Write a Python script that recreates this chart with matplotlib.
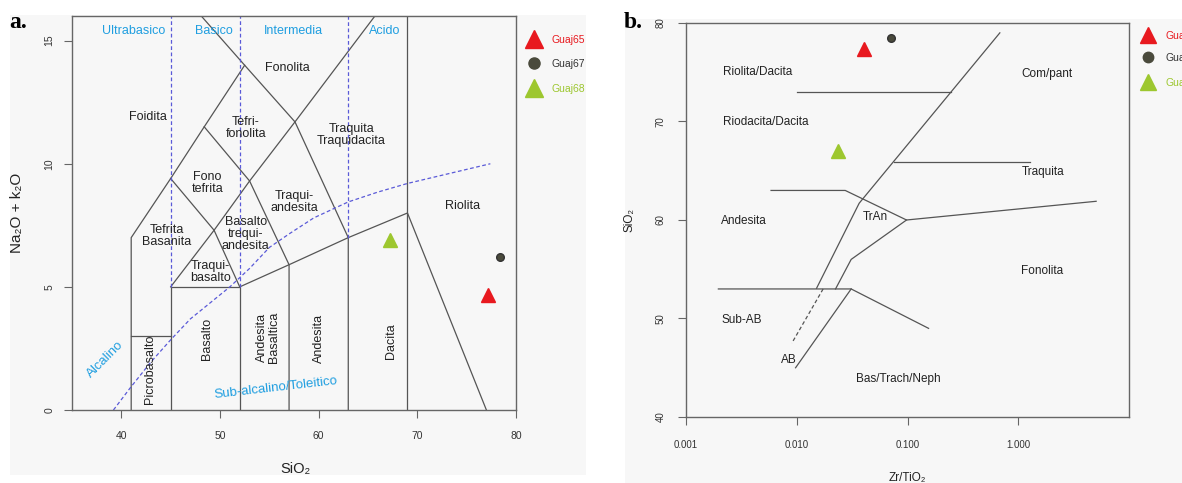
import numpy as np
import matplotlib.pyplot as plt

plt.rcParams['font.family'] = ['Liberation Sans', 'DejaVu Sans']

# ---- samples ----
samples = ['Guaj65', 'Guaj67', 'Guaj68']
sample_colors = ['#e8191f', '#4a4a3c', '#9dc72f']
sample_text_colors = ['#e8191f', '#333333', '#9dc72f']
sample_markers = ['^', 'o', '^']

# TAS (SiO2 vs Na2O+K2O)
tas_sio2 = [77.2, 78.4, 67.2]
tas_alk = [4.66, 6.2, 6.9]

# Winchester & Floyd (Zr/TiO2 vs SiO2)
wf_zr_ti = [0.0404, 0.0710, 0.0235]
wf_sio2 = [77.4, 78.5, 67.0]

# ---- TAS field boundaries ----
tas_lines = [
    ([41, 41, 45, 48.4, 52.5], [0, 7, 9.4, 11.5, 14]),
    ([41, 45], [3, 3]),
    ([45, 45, 52, 52], [0, 5, 5, 0]),
    ([45, 49.4, 45], [5, 7.3, 9.4]),
    ([52, 49.4, 53, 57.6, 65.7], [5, 7.3, 9.3, 11.7, 16]),
    ([52, 57, 63, 69, 77], [5, 5.9, 7, 8, 0]),
    ([57, 57, 53, 48.4], [0, 5.9, 9.3, 11.5]),
    ([63, 63, 57.6, 52.5, 48.1], [0, 7, 11.7, 14, 16]),
    ([69, 69], [0, 16]),
]
tas_dashed = [
    ([45, 45], [5, 16]),
    ([52, 52], [5, 16]),
    ([63, 63], [7, 16]),
]
alk_x = [39.2, 41, 43, 45, 47, 49, 51, 53, 55, 57, 59.5, 63, 66, 69, 77.4]
alk_y = [0, 0.95, 1.95, 2.85, 3.7, 4.35, 5.0, 5.75, 6.6, 7.15, 7.8, 8.45, 8.85, 9.2, 10.0]

tas_fields = ['Foidita', 'Fonolita', 'Tefri-\nfonolita', 'Traquita\nTraquidacita',
              'Fono\ntefrita', 'Traqui-\nandesita', 'Riolita', 'Tefrita\nBasanita',
              'Basalto\ntrequi-\nandesita', 'Traqui-\nbasalto']
tas_field_pos = [(42.65, 11.9), (56.8, 13.9), (52.6, 11.45), (63.3, 11.15),
                 (48.7, 9.2), (57.5, 8.45), (74.6, 8.3), (44.6, 7.05),
                 (52.6, 7.15), (49.0, 5.6)]
tas_vfields = ['Picrobasalto', 'Basalto', 'Andesita\nBasaltica', 'Andesita', 'Dacita']
tas_vfield_pos = [(42.9, 1.65), (48.7, 2.9), (54.9, 2.95), (60.0, 2.9), (67.3, 2.8)]
tas_groups = ['Ultrabasico', 'Basico', 'Intermedia', 'Acido']
tas_group_x = [41.2, 49.4, 57.4, 66.7]

# ---- Winchester & Floyd boundaries ----
wf_lines = [
    ([0.0151, 0.0366, 0.682], [53.07, 61.7, 79.0]),
    ([0.01, 0.247], [73, 73]),
    ([0.076, 1.29], [65.9, 65.9]),
    ([0.00586, 0.0274, 0.098, 5.05], [63, 63, 60, 61.9]),
    ([0.098, 0.031, 0.0224], [60, 56, 53]),
    ([0.00196, 0.031, 0.155], [53, 53, 49]),
    ([0.031, 0.00976], [53, 45]),
]
wf_dashed = [([0.0173, 0.00903], [53, 47.5])]
wf_fields = ['Riolita/Dacita', 'Com/pant', 'Riodacita/Dacita', 'Traquita', 'TrAn',
             'Andesita', 'Fonolita', 'Sub-AB', 'AB', 'Bas/Trach/Neph']
wf_field_pos = [(0.00447, 75.06), (1.81, 74.8), (0.00526, 69.9), (1.69, 64.9),
                (0.0509, 60.33), (0.00336, 59.9), (1.65, 54.85), (0.00319, 49.85),
                (0.00849, 45.8), (0.0822, 43.9)]

W, H = 1182, 483
BG = '#f7f7f7'
LINE = '#555555'
BLUE = '#1f9ee0'
DASH = '#5a5ad8'


def box(x0, y0, x1, y1):
    return [x0 / W, 1 - y1 / H, (x1 - x0) / W, (y1 - y0) / H]


def panel_bg(x0, y0, x1, y1):
    b = fig.add_axes(box(x0, y0, x1, y1))
    b.set_facecolor(BG)
    b.set_xlim(x0, x1)
    b.set_ylim(y1, y0)
    b.set_xticks([])
    b.set_yticks([])
    for s in b.spines.values():
        s.set_visible(False)
    return b


def legend(b, x, ys, ms_tri, ms_dot, fs):
    for i in range(len(samples)):
        ms = ms_dot if sample_markers[i] == 'o' else ms_tri
        b.plot(x, ys[i], marker=sample_markers[i], color=sample_colors[i], ms=ms,
               mec=sample_colors[i], ls='none', clip_on=True)
        b.text(x + 18, ys[i] + 1, samples[i], color=sample_text_colors[i], fontsize=fs,
               ha='left', va='center', clip_on=True)


def style_axes(ax, xpad, ypad, lsize):
    for s in ax.spines.values():
        s.set_color('#666666')
        s.set_linewidth(1.0)
    ax.tick_params(direction='out', length=5.8, width=0.8, color='#666666',
                   labelsize=lsize, labelcolor='#333333')
    ax.tick_params(axis='x', pad=xpad)
    ax.tick_params(axis='y', pad=ypad, labelrotation=90)
    for t in ax.get_yticklabels():
        t.set_va('center')


fig = plt.figure(figsize=(W / 100, H / 100), dpi=100)
fig.patch.set_facecolor('white')

# ================= a. TAS =================
bga = panel_bg(10, 15, 586, 475)
ax1 = fig.add_axes(box(72, 16, 516, 410))
ax1.set_facecolor(BG)
ax1.set_xlim(35, 80)
ax1.set_ylim(0, 16)
ax1.set_xticks([40, 50, 60, 70, 80])
ax1.set_yticks([0, 5, 10, 15])
style_axes(ax1, 9, 7, 7.5)

for xs, ys in tas_lines:
    ax1.plot(xs, ys, color=LINE, lw=0.9)
for xs, ys in tas_dashed:
    ax1.plot(xs, ys, color=DASH, lw=0.9, ls=(0, (3, 2)))
ax1.plot(alk_x, alk_y, color=DASH, lw=0.9, ls=(0, (3, 2)))

for name, (x, y) in zip(tas_fields, tas_field_pos):
    ax1.text(x, y, name, ha='center', va='center', fontsize=9, color='#222222',
             linespacing=1.0)
for name, (x, y) in zip(tas_vfields, tas_vfield_pos):
    ax1.text(x, y, name, ha='center', va='center', fontsize=9, color='#222222',
             rotation=90, linespacing=1.0)
for name, x in zip(tas_groups, tas_group_x):
    ax1.text(x, 15.4, name, ha='center', va='center', fontsize=9, color=BLUE)
ax1.text(38.4, 2.05, 'Alcalino', ha='center', va='center', fontsize=9.5, color=BLUE,
         rotation=45)
ax1.text(55.7, 0.9, 'Sub-alcalino/Toleitico', ha='center', va='center', fontsize=9.5,
         color=BLUE, rotation=6.5)

for i in range(len(samples)):
    ms = 5.5 if sample_markers[i] == 'o' else 9.5
    ax1.plot(tas_sio2[i], tas_alk[i], marker=sample_markers[i], color=sample_colors[i],
             ms=ms, mec='#333333' if sample_markers[i] == 'o' else sample_colors[i],
             ls='none', clip_on=False)

legend(bga, 534, [39, 63, 88], 13, 8, 7.5)
fig.text(17 / W, 1 - 213 / H, 'Na\u2082O + k\u2082O', rotation=90, ha='center',
         va='center', fontsize=11, color='#222222')
fig.text(295 / W, 1 - 469 / H, 'SiO\u2082', ha='center', va='center', fontsize=10.5,
         color='#222222')
fig.text(9 / W, 1 - 28 / H, 'a.', ha='left', va='baseline', fontsize=17,
         fontweight='bold', family=['Liberation Serif', 'DejaVu Serif'])

# ================= b. Winchester & Floyd =================
bgb = panel_bg(625, 19, 1182, 483)
ax2 = fig.add_axes(box(686, 23, 1129, 417))
ax2.set_facecolor(BG)
ax2.set_xscale('log')
ax2.set_xlim(0.001, 10)
ax2.set_ylim(40, 80)
ax2.set_xticks([0.001, 0.01, 0.1, 1])
ax2.set_xticklabels(['0.001', '0.010', '0.100', '1.000'])
ax2.minorticks_off()
ax2.set_yticks([40, 50, 60, 70, 80])
style_axes(ax2, 11, 9, 7)

for xs, ys in wf_lines:
    ax2.plot(xs, ys, color=LINE, lw=0.9)
for xs, ys in wf_dashed:
    ax2.plot(xs, ys, color=LINE, lw=0.9, ls=(0, (3, 2)))
for name, (x, y) in zip(wf_fields, wf_field_pos):
    ax2.text(x, y, name, ha='center', va='center', fontsize=8.5, color='#222222')

for i in range(len(samples)):
    ms = 5.5 if sample_markers[i] == 'o' else 9.5
    ax2.plot(wf_zr_ti[i], wf_sio2[i], marker=sample_markers[i], color=sample_colors[i],
             ms=ms, mec='#333333' if sample_markers[i] == 'o' else sample_colors[i],
             ls='none', clip_on=False)

legend(bgb, 1148, [35, 57, 82], 12, 7.5, 7.5)
fig.text(630 / W, 1 - 220 / H, 'SiO\u2082', rotation=90, ha='center', va='center',
         fontsize=8.5, color='#222222')
fig.text(907 / W, 1 - 478 / H, 'Zr/TiO\u2082', ha='center', va='center', fontsize=8.5,
         color='#222222')
fig.text(624 / W, 1 - 28 / H, 'b.', ha='left', va='baseline', fontsize=17,
         fontweight='bold', family=['Liberation Serif', 'DejaVu Serif'])

fig.savefig('out.png', dpi=100, facecolor='white')
